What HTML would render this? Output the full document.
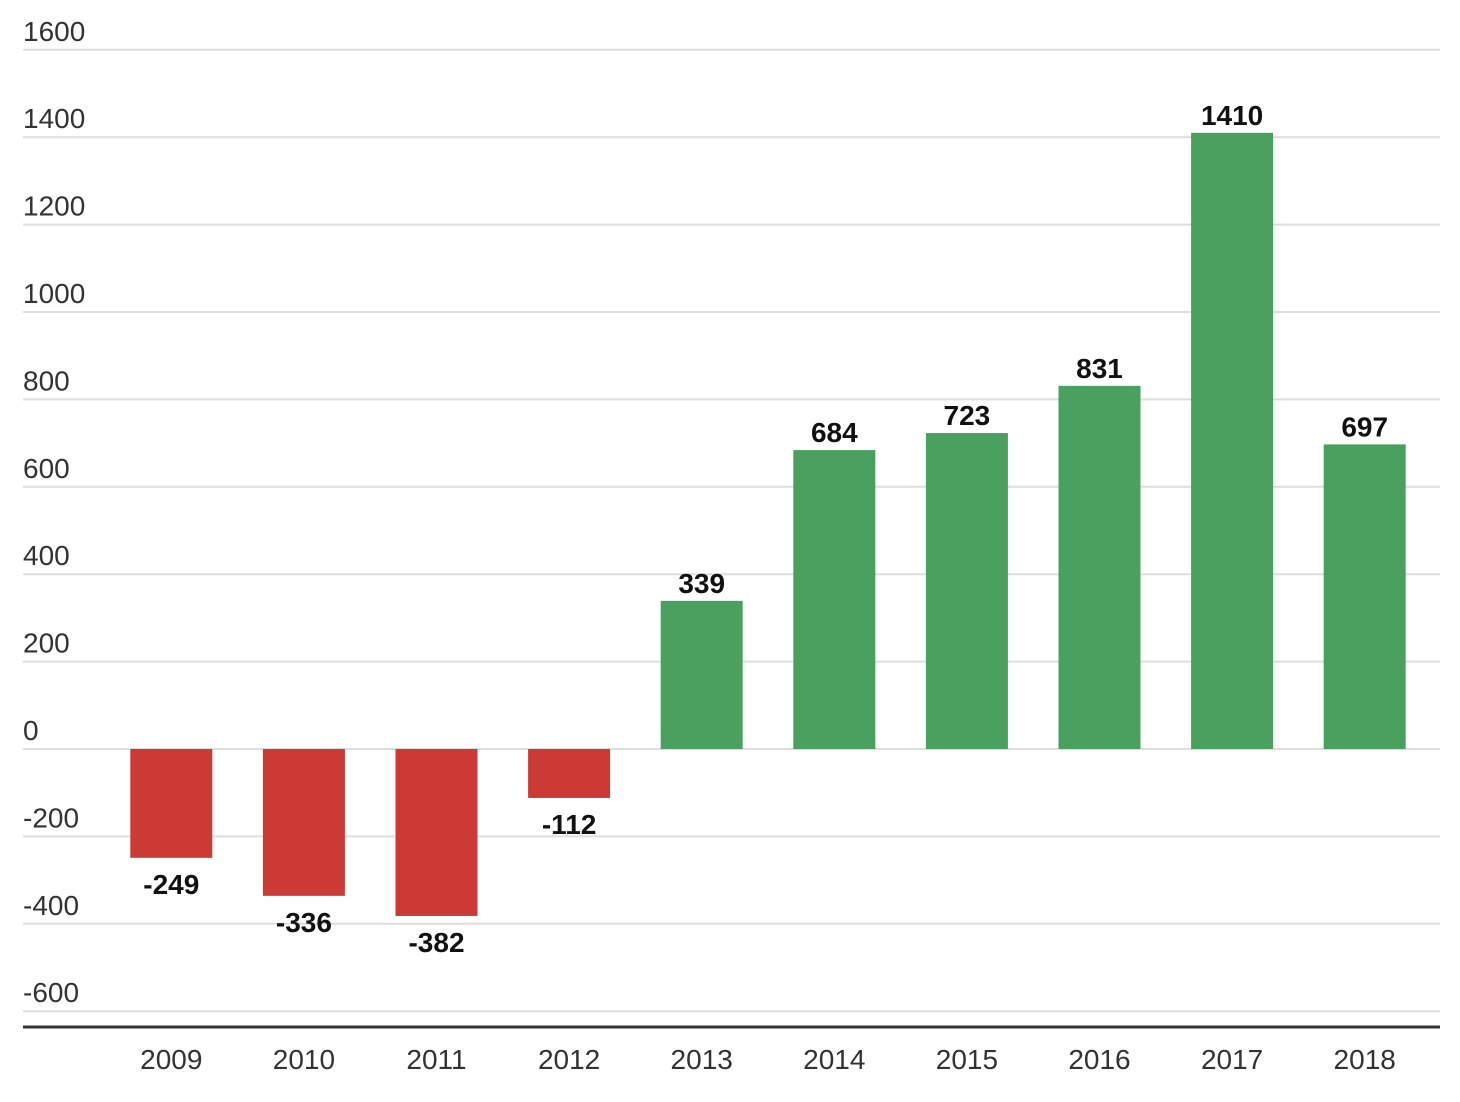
<!DOCTYPE html>
<html><head><meta charset="utf-8"><style>
html,body{margin:0;padding:0;background:#fff;}
svg{display:block;font-family:"Liberation Sans",Arial,sans-serif;}
</style></head><body>
<svg id="chart" width="1460" height="1102" viewBox="0 0 1460 1102"></svg>
<script>
const categories = ["2009","2010","2011","2012","2013","2014","2015","2016","2017","2018"];
const values = [-249,-336,-382,-112,339,684,723,831,1410,697];
const yTicks = [1600,1400,1200,1000,800,600,400,200,0,-200,-400,-600];

const svg = document.getElementById('chart');
const NS = 'http://www.w3.org/2000/svg';
const x0 = 23, x1 = 1440, zeroY = 749, pxPer = 87.4/200;
const bandStart = 105, band = 132.6, barW = 82;
function y(v){ return zeroY - v*pxPer; }
function xc(i){ return bandStart + band/2 + i*band; }
function mk(tag, attrs, text){
  const e = document.createElementNS(NS, tag);
  for (const k in attrs) e.setAttribute(k, attrs[k]);
  if (text !== undefined) e.textContent = text;
  svg.appendChild(e);
  return e;
}
yTicks.forEach(t => {
  const g = mk('line', {x1:x0, x2:x1, y1:y(t), y2:y(t), stroke:'#dedede', 'stroke-width':2});
  
  
  const l = mk('text', {x:x0, y:y(t)-9, 'font-size':28, fill:'#333'}, String(t));
  
  
});
values.forEach((v, i) => {
  const top = v >= 0 ? y(v) : y(0);
  const h = Math.abs(y(v) - y(0));
  const r = mk('rect', {x:xc(i)-barW/2, y:top, width:barW, height:h, fill: v >= 0 ? '#4aa05e' : '#cc3a35'});
  
  
  const ty = v >= 0 ? y(v) - 8 : y(v) + 36;
  const t = mk('text', {x:xc(i), y:ty, 'font-size':28, 'font-weight':'bold', fill:'#111', 'text-anchor':'middle'}, String(v));
  
  
  const c = mk('text', {x:xc(i), y:1069, 'font-size':28, fill:'#333', 'text-anchor':'middle'}, categories[i]);
  
  
});
const ax = mk('line', {x1:x0, x2:x1, y1:1027, y2:1027, stroke:'#333', 'stroke-width':3});


</script>
</body></html>
